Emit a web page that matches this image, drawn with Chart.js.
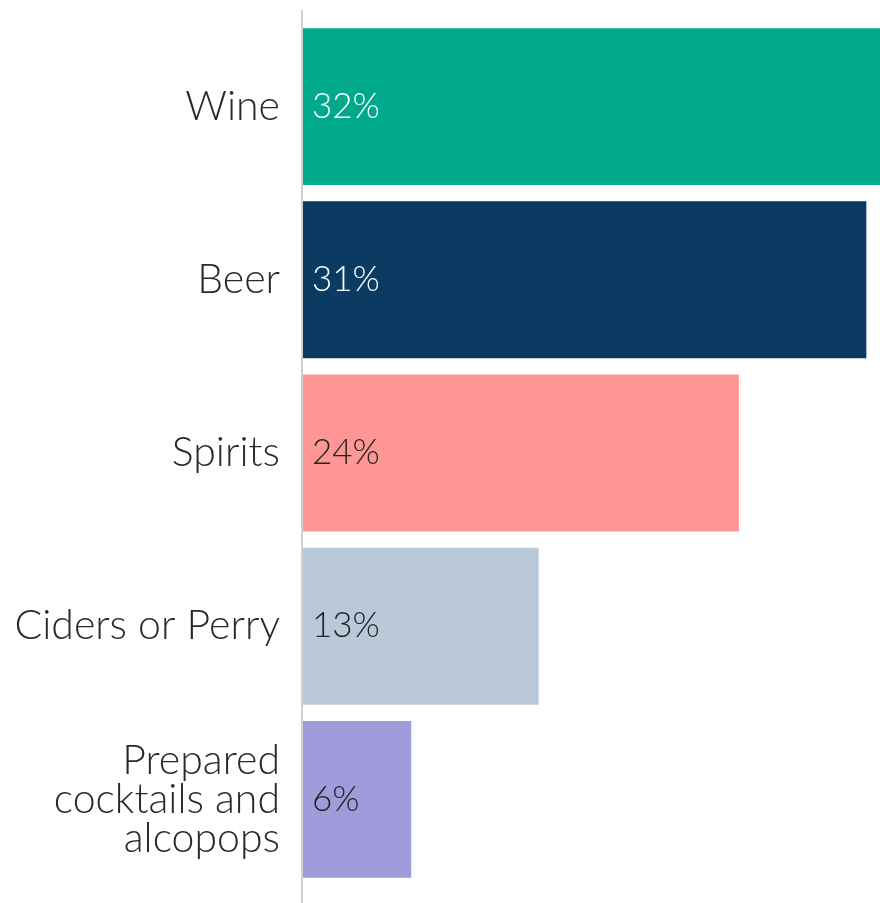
<!DOCTYPE html>
<html>
<head>
<meta charset="utf-8">
<script src="https://cdn.jsdelivr.net/npm/chart.js@4"></script>
<style>
  body { margin: 0; background: #fff; }
</style>
</head>
<body>
<canvas id="drinksChart" width="880" height="903"></canvas>
<script>
var categories = ["Wine", "Beer", "Spirits", "Ciders or Perry", ["Prepared", "cocktails and", "alcopops"]];
var shares = [32, 31, 24, 13, 6];
var barColors = ["#00A98B", "#0B3B62", "#FF9696", "#B9C9D9", "#A19BDB"];
var valueColors = ["#ffffff", "#ffffff", "#222222", "#222222", "#222222"];

var fontFamily = "Lato, 'Open Sans', sans-serif";

// axis line on the left, running a little past the bars
var axisLine = {
  id: "axisLine",
  afterDatasetsDraw: function (chart) {
    var ctx = chart.ctx;
    var x = chart.chartArea.left;
    ctx.save();
    ctx.strokeStyle = "#d0d0d0";
    ctx.lineWidth = 2;
    ctx.beginPath();
    ctx.moveTo(x, chart.chartArea.top - 10);
    ctx.lineTo(x, chart.height);
    ctx.stroke();
    ctx.restore();
  }
};

// percentage text inside each bar, next to the axis
var valueLabels = {
  id: "valueLabels",
  afterDatasetsDraw: function (chart) {
    var ctx = chart.ctx;
    var meta = chart.getDatasetMeta(0);
    ctx.save();
    ctx.font = "300 35px " + fontFamily;
    ctx.textAlign = "left";
    ctx.textBaseline = "middle";
    meta.data.forEach(function (bar, i) {
      ctx.fillStyle = valueColors[i];
      ctx.fillText(shares[i] + "%", bar.base + 10, bar.y);
    });
    ctx.restore();
  }
};

new Chart("drinksChart", {
  type: "bar",
  data: {
    labels: categories,
    datasets: [{
      data: shares,
      backgroundColor: barColors,
      borderWidth: 0,
      categoryPercentage: 1,
      barPercentage: 0.906
    }]
  },
  options: {
    indexAxis: "y",
    responsive: false,
    animation: false,
    layout: { padding: { top: 20, bottom: 17, left: 0, right: 0 } },
    plugins: {
      legend: { display: false },
      tooltip: { enabled: false },
      title: { display: false }
    },
    scales: {
      x: {
        display: false,
        min: 0,
        max: 31.75
      },
      y: {
        grid: { display: false, drawTicks: false },
        border: { display: false },
        afterFit: function (scale) {
          scale.width = 302;
          scale.paddingTop = 0;
          scale.paddingBottom = 0;
        },
        ticks: {
          padding: 22,
          color: "#2b2926",
          font: { family: fontFamily, size: 41, weight: "300", lineHeight: 0.95 }
        }
      }
    }
  },
  plugins: [axisLine, valueLabels]
});
</script>
</body>
</html>
